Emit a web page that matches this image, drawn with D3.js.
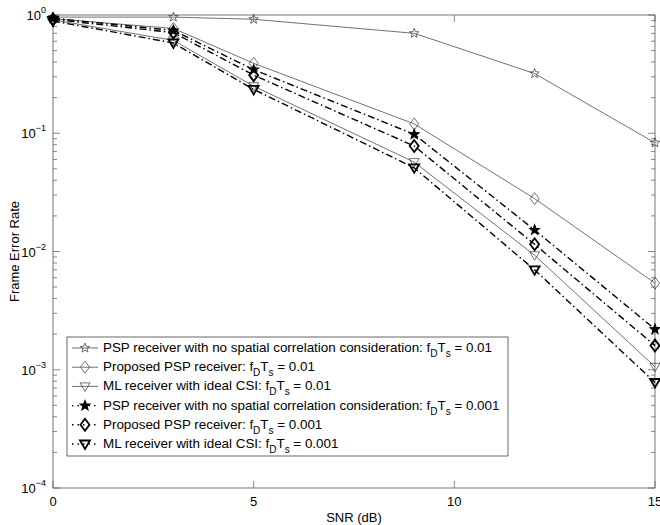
<!DOCTYPE html>
<html>
<head>
<meta charset="utf-8">
<title>FER vs SNR</title>
<script src="https://cdnjs.cloudflare.com/ajax/libs/d3/7.8.5/d3.min.js"></script>
<style>
  body { margin: 0; background: #fff; }
  svg { font-family: "Liberation Sans", Arial, sans-serif; }
</style>
</head>
<body>
<svg id="svg" width="660" height="525"></svg>
<script>
// data
const snr = [0, 3, 5, 9, 12, 15];
const ferPsp01 = [0.96, 0.96, 0.92, 0.70, 0.32, 0.083];
const ferProp01 = [0.93, 0.77, 0.39, 0.12, 0.028, 0.0054];
const ferMl01 = [0.91, 0.61, 0.25, 0.057, 0.0093, 0.00106];
const ferPsp001 = [0.94, 0.74, 0.345, 0.098, 0.0152, 0.0022];
const ferProp001 = [0.92, 0.71, 0.31, 0.078, 0.0115, 0.0016];
const ferMl001 = [0.89, 0.58, 0.235, 0.051, 0.0070, 0.00078];
const legendNames = [
  "PSP receiver with no spatial correlation consideration: ",
  "Proposed PSP receiver: ",
  "ML receiver with ideal CSI: ",
  "PSP receiver with no spatial correlation consideration: ",
  "Proposed PSP receiver: ",
  "ML receiver with ideal CSI: "
];
const legendFd = ["0.01", "0.01", "0.01", "0.001", "0.001", "0.001"];
const xTicks = [0, 5, 10, 15];
const yExps = [0, -1, -2, -3, -4];

const series = [
  {v: ferPsp01, mark: "star", bold: false},
  {v: ferProp01, mark: "diamond", bold: false},
  {v: ferMl01, mark: "tri", bold: false},
  {v: ferPsp001, mark: "star", bold: true},
  {v: ferProp001, mark: "diamond", bold: true},
  {v: ferMl001, mark: "tri", bold: true}
];

const L = 53, R = 655, T = 15, B = 488;
const fs = 13;
const svg = d3.select('#svg');
const x = d3.scaleLinear().domain([0, 15]).range([L, R]);
const y = d3.scaleLog().domain([1e-4, 1]).range([B, T]);

const axisCol = '#555';

// minor ticks on log axis
const minor = [];
for (let e = -4; e < 0; e++) {
  for (let k = 2; k <= 9; k++) minor.push(k * Math.pow(10, e));
}
const g = svg.append('g');
minor.forEach(m => {
  g.append('line').attr('x1', L).attr('x2', L + 4).attr('y1', y(m)).attr('y2', y(m)).attr('stroke', axisCol).attr('stroke-width', 0.7);
  g.append('line').attr('x1', R).attr('x2', R - 4).attr('y1', y(m)).attr('y2', y(m)).attr('stroke', axisCol).attr('stroke-width', 0.7);
});
yExps.forEach(e => {
  const v = Math.pow(10, e);
  g.append('line').attr('x1', L).attr('x2', L + 7).attr('y1', y(v)).attr('y2', y(v)).attr('stroke', axisCol).attr('stroke-width', 0.7);
  g.append('line').attr('x1', R).attr('x2', R - 7).attr('y1', y(v)).attr('y2', y(v)).attr('stroke', axisCol).attr('stroke-width', 0.7);
  const t = g.append('text').attr('x', L - 7).attr('y', y(v) + 5).attr('text-anchor', 'end').attr('font-size', fs);
  t.append('tspan').text('10');
  t.append('tspan').attr('dy', -7).attr('font-size', 9).text(e === 0 ? '0' : '\u2212' + (-e));
});
xTicks.forEach(v => {
  g.append('line').attr('x1', x(v)).attr('x2', x(v)).attr('y1', B).attr('y2', B - 7).attr('stroke', axisCol).attr('stroke-width', 0.7);
  g.append('line').attr('x1', x(v)).attr('x2', x(v)).attr('y1', T).attr('y2', T + 7).attr('stroke', axisCol).attr('stroke-width', 0.7);
  g.append('text').attr('x', x(v)).attr('y', B + 18).attr('text-anchor', 'middle').attr('font-size', fs).text(v);
});
g.append('rect').attr('x', L).attr('y', T).attr('width', R - L).attr('height', B - T)
  .attr('fill', 'none').attr('stroke', axisCol).attr('stroke-width', 0.8);

svg.append('text').attr('x', (L + R) / 2).attr('y', 522).attr('text-anchor', 'middle').attr('font-size', fs).text('SNR (dB)');
svg.append('text').attr('transform', `translate(19,${(T + B) / 2}) rotate(-90)`).attr('text-anchor', 'middle').attr('font-size', fs).text('Frame Error Rate');

function starPath(r) {
  const pts = [];
  for (let k = 0; k < 10; k++) {
    const a = -Math.PI / 2 + k * Math.PI / 5;
    const rr = k % 2 ? r * 0.42 : r;
    pts.push([rr * Math.cos(a), rr * Math.sin(a)]);
  }
  return 'M' + pts.map(p => p[0].toFixed(2) + ',' + p[1].toFixed(2)).join('L') + 'Z';
}

function marker(sel, type, bold, cx, cy) {
  let p;
  if (type === 'star') {
    p = sel.append('path').attr('d', starPath(5));
  } else if (type === 'diamond') {
    p = sel.append('path').attr('d', 'M0,-6L4.5,0L0,6L-4.5,0Z');
  } else {
    p = sel.append('path').attr('d', 'M-5,-3.5L5,-3.5L0,5Z');
  }
  p.attr('transform', `translate(${cx},${cy})`)
    .attr('fill', type === 'star' && bold ? '#000' : 'none')
    .attr('stroke', bold ? '#000' : '#333')
    .attr('stroke-width', bold ? (type === 'star' ? 1.2 : 1.8) : 0.7);
}

const line = d3.line().x((d, i) => x(snr[i])).y(d => y(d));
const plot = svg.append('g');
series.forEach(s => {
  plot.append('path').datum(s.v).attr('d', line).attr('fill', 'none')
    .attr('stroke', s.bold ? '#000' : '#333')
    .attr('stroke-width', s.bold ? 1.4 : 0.7)
    .attr('stroke-dasharray', s.bold ? '7,3,1.5,3' : null);
});
series.forEach(s => {
  s.v.forEach((d, i) => marker(plot, s.mark, s.bold, x(snr[i]), y(d)));
});

// legend
const lg = svg.append('g');
const lx = 67, ly = 337, lw = 441, lh = 119;
lg.append('rect').attr('x', lx).attr('y', ly).attr('width', lw).attr('height', lh)
  .attr('fill', '#fff').attr('stroke', '#444').attr('stroke-width', 0.8);
series.forEach((s, i) => {
  const ry = ly + 11 + i * 19.2;
  lg.append('line').attr('x1', lx + 5).attr('x2', lx + 31).attr('y1', ry).attr('y2', ry)
    .attr('stroke', s.bold ? '#000' : '#333')
    .attr('stroke-width', s.bold ? 1.4 : 0.7)
    .attr('stroke-dasharray', s.bold ? '1.5,4' : null);
  marker(lg, s.mark, s.bold, lx + 18, ry);
  const t = lg.append('text').attr('x', lx + 36).attr('y', ry + 4).attr('font-size', fs + 0.4);
  t.append('tspan').text(legendNames[i] + 'f');
  t.append('tspan').attr('dy', 5).attr('font-size', 10).text('D');
  t.append('tspan').attr('dy', -5).text('T');
  t.append('tspan').attr('dy', 5).attr('font-size', 10).text('s');
  t.append('tspan').attr('dy', -5).text('\u00a0= ' + legendFd[i]);
});
</script>
</body>
</html>
